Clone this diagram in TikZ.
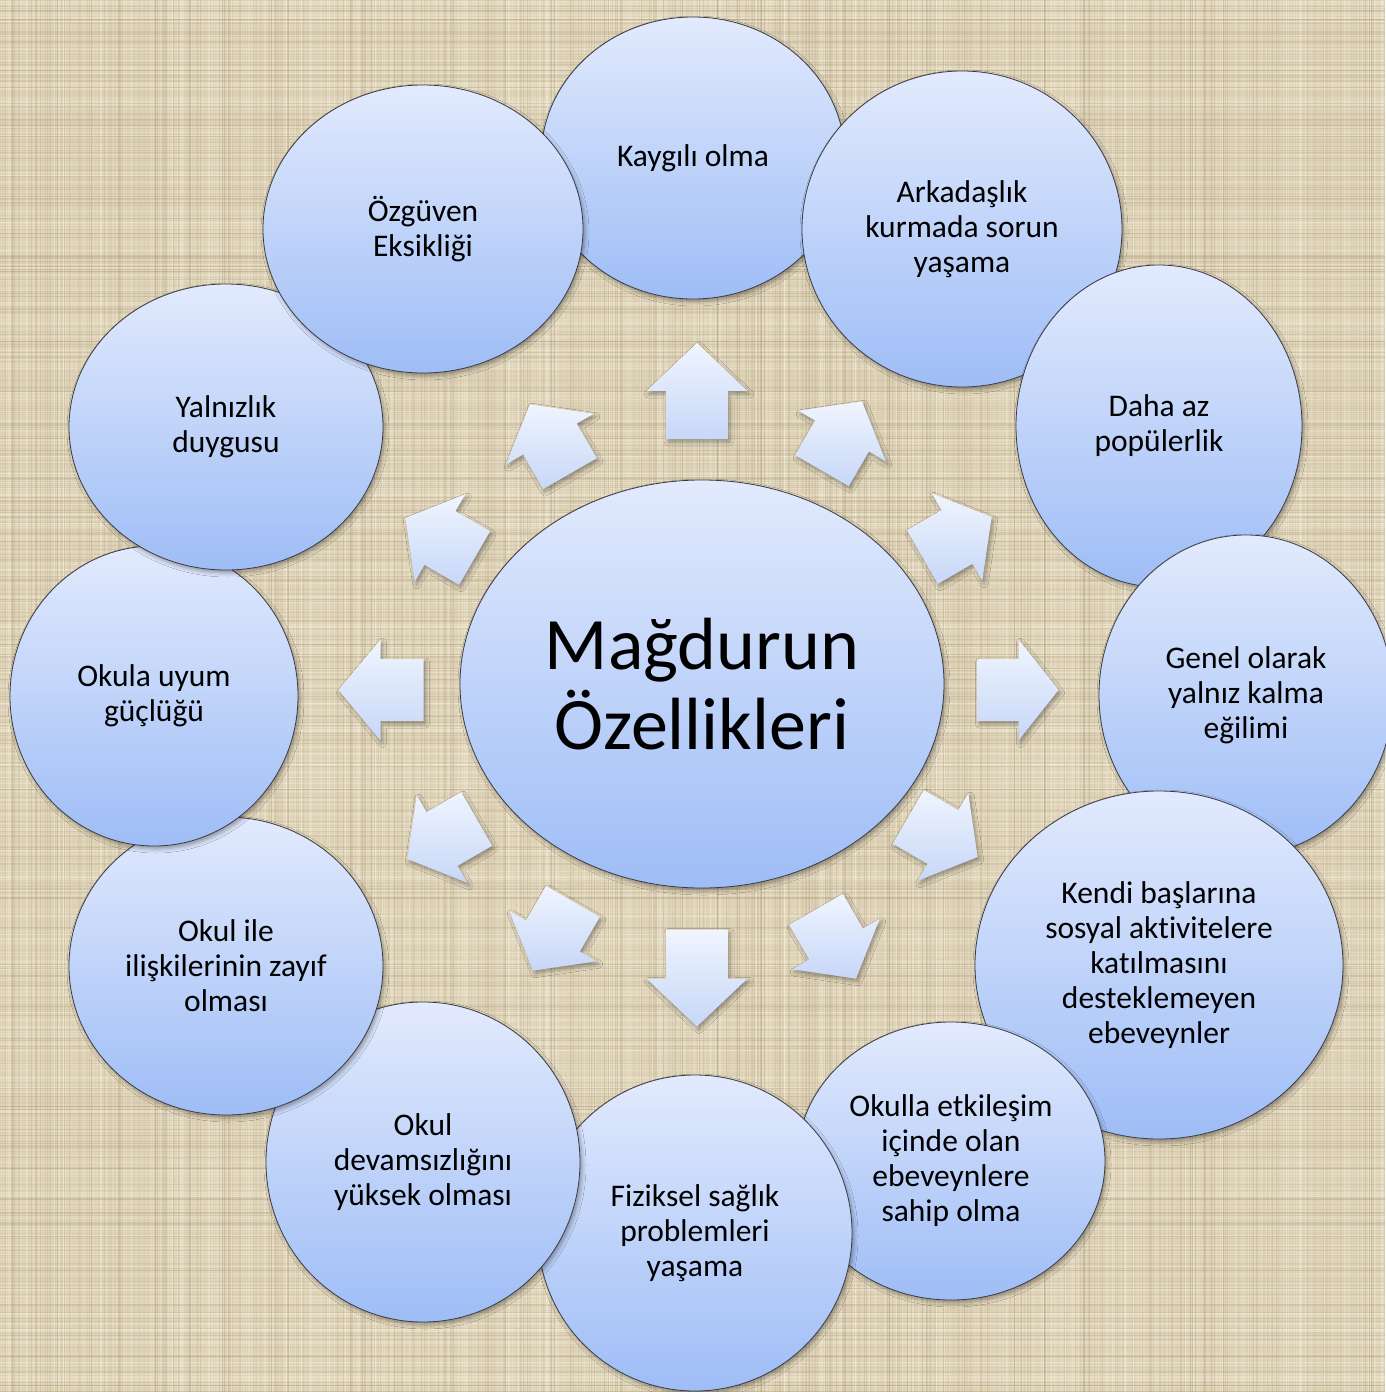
\documentclass[tikz,border=0pt]{standalone}
\usepackage{fontspec}
\setmainfont{Carlito}[Ligatures=NoCommon]
\usetikzlibrary{shapes.geometric,shadows.blur}
\definecolor{bgbase}{RGB}{222,210,182}
\definecolor{threadlight}{RGB}{246,240,222}
\definecolor{threaddark}{RGB}{160,142,110}
\definecolor{elltop}{RGB}{226,234,253}
\definecolor{ellbot}{RGB}{158,189,246}
\definecolor{arrtop}{RGB}{240,245,254}
\definecolor{arrbot}{RGB}{199,215,248}
\definecolor{edgegray}{RGB}{60,60,68}
\tikzset{
  softshadow/.style={blur shadow={shadow xshift=2pt, shadow yshift=-3pt, shadow blur radius=4pt, shadow opacity=35}},
  bubble/.style={ellipse, draw=edgegray, line width=0.8pt, top color=elltop, bottom color=ellbot,
    inner sep=0pt, align=center, text=black, font=\fontsize{31.5}{35}\selectfont, softshadow},
  hub/.style={bubble, font=\fontsize{74}{80}\selectfont},
  blockarr/.style={top color=arrtop, bottom color=arrbot, softshadow},
}
% #1 name, #2 angle, #3 cx, #4 cy (image px, downwards), #5 length, #6 head length
\newcommand\blockarrow[6]{%
  \pgfmathsetmacro\bca{cos(#2)}%
  \pgfmathsetmacro\bsa{sin(#2)}%
  \pgfmathsetmacro\bua{#5/2}%
  \pgfmathsetmacro\bub{#5/2-#6}%
  \pgfmathsetmacro\buc{-#5/2}%
  \coordinate (#1-tip) at ({#3+\bua*\bca},{-#4+\bua*\bsa});
  \coordinate (#1-h1) at ({#3+\bub*\bca-50.5*\bsa},{-#4+\bub*\bsa+50.5*\bca});
  \coordinate (#1-s1) at ({#3+\bub*\bca-31*\bsa},{-#4+\bub*\bsa+31*\bca});
  \coordinate (#1-b1) at ({#3+\buc*\bca-31*\bsa},{-#4+\buc*\bsa+31*\bca});
  \coordinate (#1-b2) at ({#3+\buc*\bca+31*\bsa},{-#4+\buc*\bsa-31*\bca});
  \coordinate (#1-s2) at ({#3+\bub*\bca+31*\bsa},{-#4+\bub*\bsa-31*\bca});
  \coordinate (#1-h2) at ({#3+\bub*\bca+50.5*\bsa},{-#4+\bub*\bsa-50.5*\bca});
  \path[blockarr] (#1-tip) -- (#1-h1) -- (#1-s1) -- (#1-b1) -- (#1-b2) -- (#1-s2) -- (#1-h2) -- cycle;
}
\begin{document}
\begin{tikzpicture}[x=1pt,y=1pt]
\useasboundingbox (0,0) rectangle (1385,-1392);
% background linen
\fill[bgbase] (0,0) rectangle (1385,-1392);
\pgfmathsetseed{11}
\foreach \k in {1,...,650}{
  \pgfmathsetmacro\pos{1392*rnd}\pgfmathsetmacro\op{0.1+0.3*rnd}\pgfmathsetmacro\lw{0.4+0.9*rnd}
  \draw[threadlight, opacity=\op, line width=\lw pt] (0,-\pos) -- (1385,-\pos);
  \pgfmathsetmacro\pos{1385*rnd}\pgfmathsetmacro\op{0.1+0.3*rnd}\pgfmathsetmacro\lw{0.4+0.9*rnd}
  \draw[threadlight, opacity=\op, line width=\lw pt] (\pos,0) -- (\pos,-1392);
}
\foreach \k in {1,...,500}{
  \pgfmathsetmacro\pos{1392*rnd}\pgfmathsetmacro\op{0.06+0.18*rnd}\pgfmathsetmacro\lw{0.4+0.9*rnd}
  \draw[threaddark, opacity=\op, line width=\lw pt] (0,-\pos) -- (1385,-\pos);
  \pgfmathsetmacro\pos{1385*rnd}\pgfmathsetmacro\op{0.06+0.18*rnd}\pgfmathsetmacro\lw{0.4+0.9*rnd}
  \draw[threaddark, opacity=\op, line width=\lw pt] (\pos,0) -- (\pos,-1392);
}

% central ellipse
\node[hub, minimum width=484pt, minimum height=408pt] (hub) at (702,-684) {Mağdurun\\Özellikleri};

% arrows
\blockarrow{a90}{90}{697}{391}{96}{48}
\blockarrow{a60}{60}{842}{436}{80}{40}
\blockarrow{a30}{30}{957}{537}{80}{40}
\blockarrow{a0}{0}{1018}{690}{81}{40}
\blockarrow{am30}{-30}{943}{837}{80}{40}
\blockarrow{am60}{-60}{836}{944}{80}{40}
\blockarrow{am90}{-90}{697}{978}{97}{48}
\blockarrow{am120}{-120}{553}{936}{80}{40}
\blockarrow{am150}{-150}{442}{839}{80}{40}
\blockarrow{a180}{180}{381}{690}{85}{42}
\blockarrow{a150}{150}{440}{538}{80}{40}
\blockarrow{a120}{120}{550}{439}{80}{40}

% outer bubbles, clockwise from top (later ones on top)
\node[bubble, minimum width=304pt, minimum height=282pt] (b1) at (693,-158) {Kaygılı olma};
\node[bubble, minimum width=320pt, minimum height=316pt] (b2) at (962,-229) {Arkadaşlık\\kurmada sorun\\yaşama};
\node[bubble, minimum width=286pt, minimum height=322pt] (b3) at (1159,-426) {Daha az\\popülerlik};
\node[bubble, minimum width=294pt, minimum height=320pt] (b4) at (1246,-695) {Genel olarak\\yalnız kalma\\eğilimi};
\node[bubble, minimum width=368pt, minimum height=348pt] (b5) at (1159,-965) {Kendi başlarına\\sosyal aktivitelere\\katılmasını\\desteklemeyen\\ebeveynler};
\node[bubble, minimum width=308pt, minimum height=278pt] (b6) at (951,-1161) {Okulla etkileşim\\içinde olan\\ebeveynlere\\sahip olma};
\node[bubble, minimum width=314pt, minimum height=316pt] (b7) at (695,-1233) {Fiziksel sağlık\\problemleri\\yaşama};
\node[bubble, minimum width=314pt, minimum height=320pt] (b8) at (423,-1162) {Okul\\devamsızlığını\\yüksek olması};
\node[bubble, minimum width=314pt, minimum height=298pt] (b9) at (226,-966) {Okul ile\\ilişkilerinin zayıf\\olması};
\node[bubble, minimum width=288pt, minimum height=300pt] (b10) at (154,-696) {Okula uyum\\güçlüğü};
\node[bubble, minimum width=314pt, minimum height=286pt] (b11) at (226,-427) {Yalnızlık\\duygusu};
\node[bubble, minimum width=320pt, minimum height=288pt] (b12) at (423,-229) {Özgüven\\Eksikliği};
\end{tikzpicture}
\end{document}
